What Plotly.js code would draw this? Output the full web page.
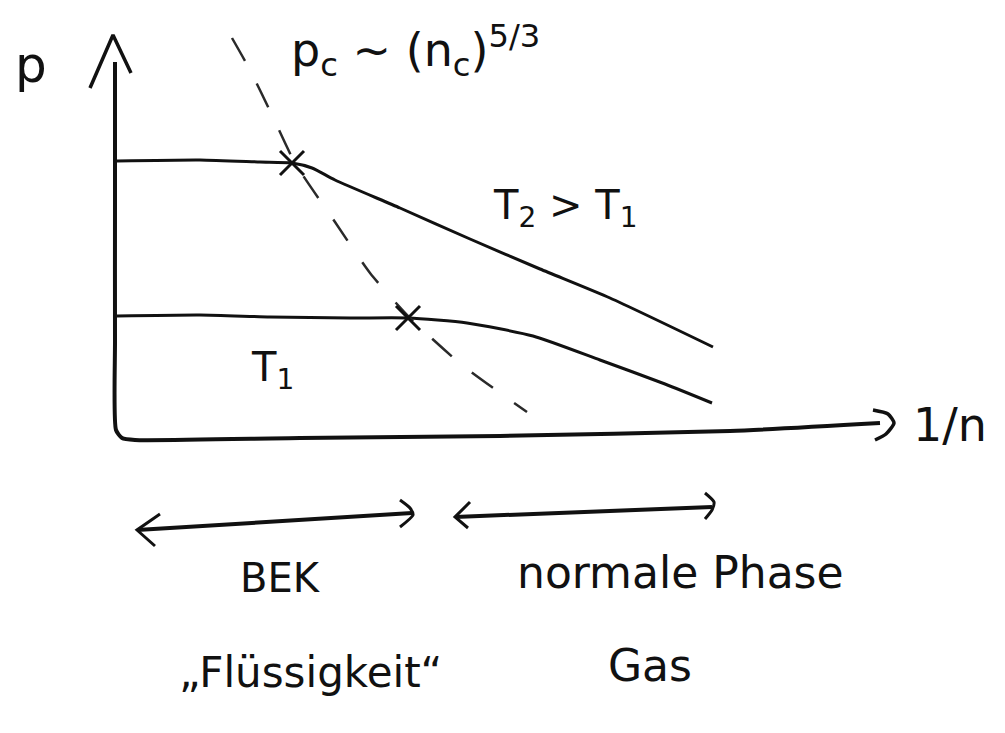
<!DOCTYPE html>
<html>
<head>
<meta charset="utf-8">
<script src="https://cdn.plot.ly/plotly-3.0.1.min.js"></script>
<style>
  html, body { margin: 0; padding: 0; background: #ffffff; }
  #chart { width: 1005px; height: 733px; }
</style>
</head>
<body>
<div id="chart"></div>
<script>
// Isotherms p(1/n) of a Bose gas; x = 1/n, y = p (arbitrary units)
const isoT2X = [0.02, 0.85, 1.45, 1.77, 1.97, 2.20, 2.85, 3.55, 4.25, 4.95, 5.98];
const isoT2Y = [2.79, 2.80, 2.78, 2.77, 2.72, 2.60, 2.32, 2.01, 1.71, 1.42, 0.93];

const isoT1X = [0.02, 0.85, 1.55, 2.35, 2.93, 3.52, 4.18, 4.85, 5.50, 5.97];
const isoT1Y = [1.24, 1.25, 1.23, 1.22, 1.22, 1.17, 1.04, 0.80, 0.56, 0.37];

// Critical line p_c ~ n_c^(5/3)
const critX = [1.17, 1.35, 1.57, 1.80, 2.20, 2.55, 2.95, 3.47, 4.12];
const critY = [4.02, 3.70, 3.25, 2.77, 2.18, 1.67, 1.22, 0.75, 0.28];

// Onset of condensation on each isotherm
const onsetX = [1.77, 2.93];
const onsetY = [2.77, 1.22];

// Hand-drawn coordinate frame
const frameX = [0.00, 0.00, 0.00, 0.01, 0.07, 0.20, 1.85, 3.85, 6.15, 7.65];
const frameY = [3.78, 2.40, 1.00, 0.10, 0.02, 0.00, 0.02, 0.04, 0.09, 0.17];
const yHeadX = [-0.25, -0.02, 0.16];
const yHeadY = [3.52, 4.05, 3.67];
const xHeadX = [7.58, 7.73, 7.79, 7.71, 7.60];
const xHeadY = [0.30, 0.26, 0.17, 0.06, 0.00];

// Range arrows below the axis
const bekLineX = [0.22, 2.97];
const bekLineY = [-0.90, -0.73];
const bekLeftX = [0.45, 0.22, 0.40];
const bekLeftY = [-0.74, -0.90, -1.06];
const bekRightX = [2.85, 2.95, 2.98, 2.85];
const bekRightY = [-0.60, -0.68, -0.75, -0.87];

const gasLineX = [3.40, 5.97];
const gasLineY = [-0.77, -0.67];
const gasLeftX = [3.55, 3.40, 3.53];
const gasLeftY = [-0.62, -0.77, -0.88];
const gasRightX = [5.90, 5.99, 5.97, 5.90];
const gasRightY = [-0.53, -0.62, -0.70, -0.79];

const ink = '#111111';

function stroke(x, y, w, extra) {
  return Object.assign({
    x: x, y: y, mode: 'lines', type: 'scatter', hoverinfo: 'skip',
    line: { color: ink, width: w, shape: 'spline', smoothing: 0.6 }
  }, extra || {});
}

const traces = [
  stroke(frameX, frameY, 4),
  stroke(yHeadX, yHeadY, 3.5, { line: { color: ink, width: 3.5 } }),
  stroke(xHeadX, xHeadY, 3.5),
  stroke(isoT2X, isoT2Y, 3),
  stroke(isoT1X, isoT1Y, 3),
  stroke(critX, critY, 2.5, { line: { color: '#2a2a2a', width: 2.5, dash: '26px,26px', shape: 'spline', smoothing: 0.6 } }),
  {
    x: onsetX, y: onsetY, mode: 'markers', type: 'scatter', hoverinfo: 'skip',
    marker: { symbol: 'x-thin', size: 24, line: { color: ink, width: 3 } }
  },
  stroke(bekLineX, bekLineY, 4, { line: { color: ink, width: 4 } }),
  stroke(bekLeftX, bekLeftY, 3, { line: { color: ink, width: 3 } }),
  stroke(bekRightX, bekRightY, 3),
  stroke(gasLineX, gasLineY, 4, { line: { color: ink, width: 4 } }),
  stroke(gasLeftX, gasLeftY, 3, { line: { color: ink, width: 3 } }),
  stroke(gasRightX, gasRightY, 3)
];

const font = { family: 'DejaVu Sans, sans-serif', color: ink };
function label(text, x, y, size) {
  return {
    text: text, x: x, y: y, xref: 'x', yref: 'y', showarrow: false,
    xanchor: 'center', yanchor: 'middle',
    font: Object.assign({}, font, { size: size })
  };
}

const layout = {
  width: 1005, height: 733,
  margin: { l: 0, r: 0, t: 0, b: 0 },
  paper_bgcolor: '#ffffff', plot_bgcolor: '#ffffff',
  showlegend: false,
  xaxis: { range: [-1.15, 8.90], visible: false, fixedrange: true },
  yaxis: { range: [-2.93, 4.40], visible: false, fixedrange: true },
  annotations: [
    label('p', -0.84, 3.75, 50),
    label('p<sub>c</sub> ~ (n<sub>c</sub>)<sup>5/3</sup>', 3.00, 3.90, 46),
    label('T<sub>2</sub> > T<sub>1</sub>', 4.50, 2.32, 40),
    label('T<sub>1</sub>', 1.57, 0.70, 40),
    label('1/n', 8.35, 0.15, 46),
    label('BEK', 1.65, -1.38, 40),
    label('normale Phase', 5.65, -1.32, 44),
    label('„Flüssigkeit“', 1.95, -2.32, 42),
    label('Gas', 5.35, -2.25, 44)
  ]
};

Plotly.newPlot('chart', traces, layout, { staticPlot: true, displayModeBar: false });
</script>
</body>
</html>
